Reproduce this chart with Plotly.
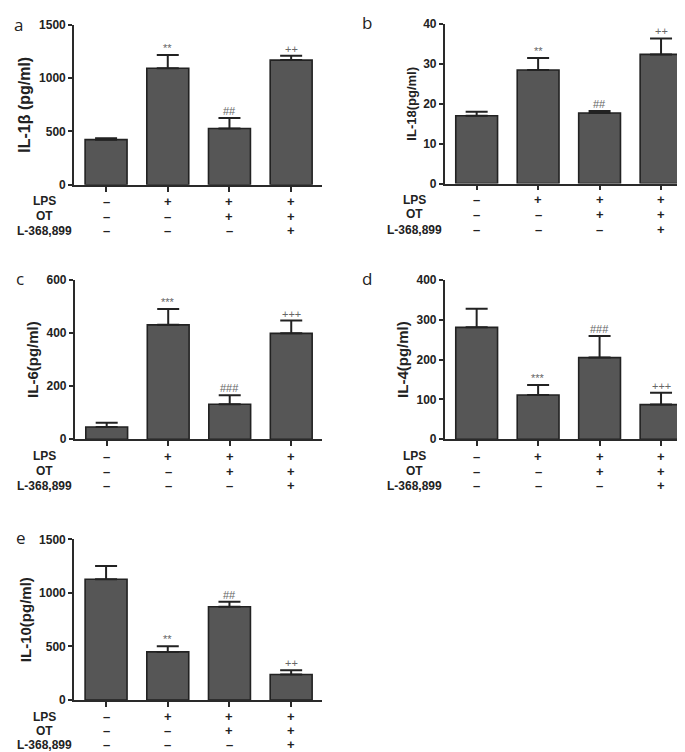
import plotly.graph_objects as go

W, H = 685, 752

groups = ["g1", "g2", "g3", "g4"]
row_labels = ["LPS", "OT", "L-368,899"]
row_signs = [["–", "+", "+", "+"],
             ["–", "–", "+", "+"],
             ["–", "–", "–", "+"]]

il1b = [423, 1092, 527, 1169]
il1b_err = [13, 126, 99, 40]
il1b_sig = ["", "**", "##", "++"]

il18 = [17.0, 28.5, 17.7, 32.4]
il18_err = [1.0, 3.0, 0.5, 4.0]
il18_sig = ["", "**", "##", "++"]

il6 = [46, 431, 132, 399]
il6_err = [16, 60, 34, 48]
il6_sig = ["", "***", "###", "+++"]

il4 = [281, 111, 205, 87]
il4_err = [47, 25, 54, 30]
il4_sig = ["", "***", "###", "+++"]

il10 = [1127, 449, 871, 238]
il10_err = [125, 52, 46, 40]
il10_sig = ["", "**", "##", "++"]

panels = [
    dict(letter="a", vals=il1b, err=il1b_err, sig=il1b_sig, ymax=1500, dtick=500,
         title="IL-1β (pg/ml)", tsize=16, x0=66, x1=314, ytop=10, ybot=173, labx=36, letx=4, lety=10,
         rows=[17, 32, 47]),
    dict(letter="b", vals=il18, err=il18_err, sig=il18_sig, ymax=40, dtick=10,
         title="IL-18(pg/ml)", tsize=13, x0=436.7, x1=685, ytop=9.3, ybot=171.7, labx=406, letx=352, lety=8,
         rows=[16.5, 31.5, 47]),
    dict(letter="c", vals=il6, err=il6_err, sig=il6_sig, ymax=600, dtick=200,
         title="IL-6(pg/ml)", tsize=15, x0=66.7, x1=314, ytop=270, ybot=432.3, labx=36, letx=6, lety=268,
         rows=[17.5, 32.5, 47.5]),
    dict(letter="d", vals=il4, err=il4_err, sig=il4_sig, ymax=400, dtick=100,
         title="IL-4(pg/ml)", tsize=15, x0=436.7, x1=685, ytop=270, ybot=432.3, labx=406, letx=352, lety=268,
         rows=[17.5, 32.5, 47.5]),
    dict(letter="e", vals=il10, err=il10_err, sig=il10_sig, ymax=1500, dtick=500,
         title="IL-10(pg/ml)", tsize=15, x0=66, x1=314, ytop=534.3, ybot=698, labx=36, letx=6, lety=532,
         rows=[17, 31.5, 45.5]),
]

fig = go.Figure()
annotations = []
layout_axes = {}
AX = "#2a2a2a"
FONT = "Liberation Sans, Arial"
for i, p in enumerate(panels):
    k = "" if i == 0 else str(i + 1)
    xs = [0, 1, 2, 3]
    fig.add_trace(go.Bar(
        x=xs, y=p["vals"], width=0.68,
        marker=dict(color="#565656", line=dict(color="#222222", width=1.6)),
        error_y=dict(type="data", array=p["err"], arrayminus=[0] * 4, symmetric=False,
                     color="#222222", thickness=2, width=11),
        xaxis="x" + k, yaxis="y" + k, showlegend=False, hoverinfo="skip"))
    x_right = 3.5 if p["x1"] < 600 else 3.52
    layout_axes["xaxis" + k] = dict(
        domain=[p["x0"] / W, p["x1"] / W], range=[-0.52, x_right], anchor="y" + k,
        showgrid=False, zeroline=False, showline=True, linecolor=AX, linewidth=1.6,
        ticks="outside", ticklen=5, tickwidth=1.6, tickcolor=AX,
        tickvals=xs, showticklabels=False, fixedrange=True)
    layout_axes["yaxis" + k] = dict(
        domain=[1 - p["ybot"] / H, 1 - p["ytop"] / H], range=[0, p["ymax"]], anchor="x" + k,
        showgrid=False, zeroline=False, showline=True, linecolor=AX, linewidth=1.6,
        ticks="outside", ticklen=4, tickwidth=1.6, tickcolor=AX, dtick=p["dtick"],
        tickfont=dict(family=FONT, size=12, color="#222", weight="bold"),
        title=dict(text="<b>%s</b>" % p["title"], standoff=4,
                   font=dict(family=FONT, size=p["tsize"], color="#222")),
        fixedrange=True)
    # significance marks
    for j in range(4):
        if p["sig"][j]:
            annotations.append(dict(
                x=j, y=p["vals"][j] + p["err"][j], xref="x" + k, yref="y" + k,
                text=p["sig"][j], showarrow=False, yanchor="bottom", yshift=-1,
                font=dict(family=FONT, size=11, color="#666666")))
    # condition table
    for r, lab in enumerate(row_labels):
        py = p["ybot"] + p["rows"][r]
        annotations.append(dict(
            x=p["labx"] / W, y=1 - py / H, xref="paper", yref="paper", text="<b>%s</b>" % lab,
            showarrow=False, xanchor="center", yanchor="middle",
            font=dict(family=FONT, size=12, color="#222")))
        for j in range(4):
            annotations.append(dict(
                x=j, y=1 - py / H, xref="x" + k, yref="paper", text="<b>%s</b>" % row_signs[r][j],
                showarrow=False, xanchor="center", yanchor="middle",
                font=dict(family=FONT, size=13, color="#222")))
    annotations.append(dict(
        x=p["letx"] / W, y=1 - p["lety"] / H, xref="paper", yref="paper", text=p["letter"],
        showarrow=False, xanchor="left", yanchor="middle",
        font=dict(family="Open Sans", size=17, color="#222")))

fig.update_layout(
    width=W, height=H, margin=dict(l=0, r=0, t=0, b=0),
    paper_bgcolor="white", plot_bgcolor="white",
    annotations=annotations, bargap=0.3, **layout_axes)

fig.write_html("out.html")
